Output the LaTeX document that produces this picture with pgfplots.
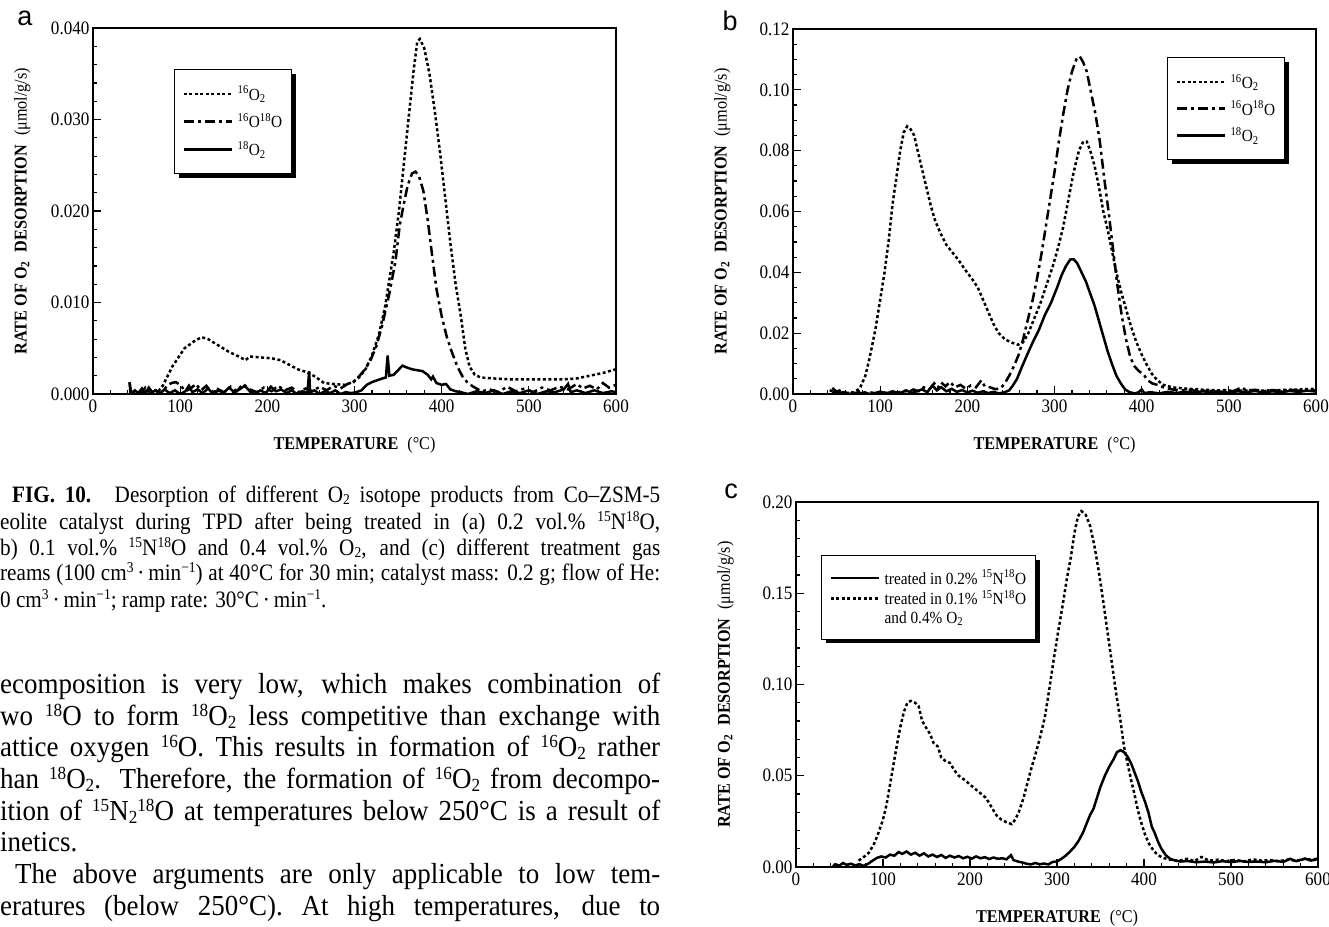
\documentclass[border=0pt]{standalone}
\usepackage{fontspec}
\setmainfont{Liberation Serif}
\newfontfamily\sansf{Liberation Sans}
\newfontfamily\capfont[FakeStretch=0.9]{Liberation Serif}
\newfontfamily\bodyfont[FakeStretch=0.93]{Liberation Serif}
\newfontfamily\plotfont[FakeStretch=0.9]{Liberation Serif}
\usepackage{pgfplots}
\pgfplotsset{compat=1.18}
\usetikzlibrary{shadows}

\newcommand{\fs}[1]{\fontsize{#1}{#1}\selectfont}
\newcommand{\sups}[1]{\textsuperscript{#1}}
\newcommand{\subs}[1]{\textsubscript{#1}}
% body-text and caption super/subscripts
\newcommand{\bsup}[1]{\raisebox{9pt}{\fs{18.5}#1}}
\newcommand{\bsub}[1]{\raisebox{-3pt}{\fs{18.5}#1}}
\newcommand{\csup}[1]{\raisebox{7.5pt}{\fs{15}#1}}
\newcommand{\csub}[1]{\raisebox{-2.5pt}{\fs{15}#1}}

\makeatletter
\tikzset{no preactions/.code={\let\tikz@preactions\pgfutil@empty}}
\makeatother

\pgfplotsset{
  legend image code/.code={\draw[no preactions,#1] (0pt,0pt) -- (48pt,0pt);},
  tpd/.style={
    scale only axis, anchor=south west,
    xmin=0, xmax=600, ymin=0,
    xtick={0,100,200,300,400,500,600},
    minor x tick num=4,
    tick align=inside,
    xtick pos=left, ytick pos=left,
    major tick length=8pt, minor tick length=4pt,
    every tick/.style={black, line width=1.2pt},
    axis line style={line width=1.8pt},
    tick label style={font=\plotfont\fs{19}},
    xticklabel style={yshift=-2pt},
    /pgf/number format/assume math mode=true,
    scaled y ticks=false,
    every axis x label/.style={at={(axis description cs:0.5,-0.139)}, anchor=center},
    every axis y label/.style={at={(axis description cs:-0.135,0.5)}, rotate=90, anchor=center},
    xlabel={\plotfont\fs{18}\textbf{TEMPERATURE}\enspace(°C)},
    ylabel={\plotfont\fs{18}\textbf{RATE OF O\subs{2}\enspace DESORPTION}\enspace(μmol/g/s)},
    legend cell align=left,
    legend style={draw=black, line width=1.2pt, fill=white, font=\plotfont\fs{17}, anchor=north west,
      inner xsep=8pt, inner ysep=15pt, row sep=8pt, column sep=3pt,
      nodes={inner sep=1.5pt},
      drop shadow={shadow xshift=4pt, shadow yshift=-4pt, fill=black, opacity=1}},
  },
  s16/.style={black, line width=2.5pt, dash pattern=on 3pt off 2.5pt},
  s1618/.style={black, line width=2.5pt, dash pattern=on 10pt off 4pt on 3pt off 4pt},
  s18/.style={black, line width=2.5pt},
}

\begin{document}
\begin{tikzpicture}
\path[use as bounding box] (0pt,0pt) rectangle (1329pt,-926pt);

% ---------------- panel a ----------------
\begin{axis}[tpd, at={(93pt,-394pt)}, width=523pt, height=366pt,
  ymax=0.04, ytick={0,0.01,0.02,0.03,0.04}, minor y tick num=4,
  yticklabel style={/pgf/number format/.cd, fixed, fixed zerofill, precision=3},
  legend style={at={(axis description cs:0.155,0.888)}, row sep=9pt}]
\addplot[s16] coordinates {(75,0.0003) (80,0.0009) (91,0.003) (105,0.005) (118,0.0059) (125,0.0062) (132,0.006) (144,0.0053) (156,0.0046) (165,0.0042) (175,0.0037) (180,0.0041) (192,0.0040) (205,0.0039) (215,0.0037) (225,0.0032) (235,0.0027) (245,0.0024) (255,0.0019) (265,0.0012) (275,0.0011) (289,0.0010) (298,0.0013) (305,0.0018) (312,0.0026) (320,0.0042) (328,0.0065) (335,0.0095) (340,0.0125) (345,0.0155) (351,0.0200) (357,0.0255) (363,0.031) (368,0.0355) (372,0.0385) (375,0.0388) (380,0.0378) (386,0.035) (392,0.031) (398,0.0265) (404,0.0215) (410,0.0165) (416,0.012) (422,0.0085) (427,0.005) (432,0.003) (438,0.0021) (445,0.0018) (460,0.0017) (480,0.0016) (500,0.0016) (520,0.0016) (540,0.0016) (555,0.0017) (570,0.002) (585,0.0023) (600,0.0027)};
\addlegendentry{\sups{16}O\subs{2}}
\addplot[s1618] coordinates {(42,0.0012) (44,0.0) (50,0.0005) (55,0.0001) (60,0.0007) (65,0.0002) (72,0.0004) (78,0.0) (85,0.0009) (90,0.0012) (95,0.0013) (100,0.001) (106,0.0003) (112,0.0006) (118,0.0011) (124,0.0004) (130,0.0009) (136,0.0002) (142,0.0006) (150,0.0002) (158,0.0008) (165,0.0003) (172,0.0011) (180,0.0005) (188,0.0002) (196,0.0007) (205,0.0003) (212,0.0009) (220,0.0004) (228,0.0007) (236,0.0002) (244,0.0006) (252,0.0003) (260,0.0008) (268,0.0004) (276,0.0009) (284,0.0006) (292,0.0011) (298,0.0012) (305,0.0019) (312,0.0027) (318,0.0036) (325,0.0052) (332,0.0076) (340,0.011) (347,0.0145) (352,0.0185) (356,0.0205) (361,0.0228) (366,0.0241) (370,0.0243) (374,0.0238) (379,0.0222) (384,0.019) (389,0.0152) (394,0.0115) (400,0.0085) (406,0.0062) (412,0.0045) (418,0.003) (424,0.0019) (430,0.0012) (438,0.0007) (446,0.0003) (455,0.0005) (465,0.0002) (475,0.0008) (485,0.0003) (495,0.0006) (505,0.0002) (515,0.0007) (525,0.0004) (535,0.0008) (545,0.0005) (555,0.0011) (562,0.0006) (570,0.0009) (578,0.0005) (585,0.0012) (592,0.0007) (600,0.001)};
\addlegendentry{\sups{16}O\sups{18}O}
\addplot[s18] coordinates {(42,0.0013) (43,0.0) (48,0.0004) (52,0.0001) (56,0.0006) (60,0.0) (64,0.0007) (68,0.0002) (72,0.0004) (76,0.0) (82,0.0005) (88,0.0001) (94,0.0004) (100,0.0) (106,0.0003) (110,0.0009) (114,0.0002) (120,0.0005) (126,0.0001) (132,0.0006) (138,0.0) (144,0.0004) (150,0.0001) (156,0.0007) (162,0.0002) (168,0.0005) (174,0.0009) (180,0.0003) (186,0.0) (192,0.0004) (198,0.0001) (204,0.0008) (210,0.0003) (216,0.0005) (222,0.0001) (228,0.0004) (234,0.0) (240,0.0003) (246,0.0001) (248,0.0025) (249,0.0002) (254,0.0004) (260,0.0) (266,0.0003) (272,0.0001) (278,0.0004) (284,0.0) (290,0.0002) (296,0.0001) (302,0.0002) (308,0.0004) (314,0.001) (320,0.0013) (326,0.0015) (332,0.0017) (336,0.0018) (338,0.0042) (340,0.002) (345,0.0021) (350,0.0026) (355,0.0031) (360,0.0029) (366,0.0027) (372,0.0026) (378,0.0025) (384,0.0021) (388,0.0016) (390,0.0019) (394,0.0012) (400,0.001) (405,0.0011) (410,0.0005) (416,0.0003) (422,0.0002) (430,0.0) (440,0.0003) (450,0.0001) (460,0.0004) (470,0.0) (480,0.0003) (490,0.0001) (500,0.0004) (510,0.0) (520,0.0003) (530,0.0002) (540,0.0005) (545,0.0011) (548,0.0002) (555,0.0004) (565,0.0001) (575,0.0004) (585,0.0001) (595,0.0003) (600,0.0002)};
\addlegendentry{\sups{18}O\subs{2}}
\end{axis}

% ---------------- panel b ----------------
\begin{axis}[tpd, at={(793pt,-394pt)}, width=523pt, height=365pt,
  ymax=0.12, ytick={0,0.02,0.04,0.06,0.08,0.10,0.12}, minor y tick num=3,
  yticklabel style={/pgf/number format/.cd, fixed, fixed zerofill, precision=2},
  legend style={at={(axis description cs:0.715,0.923)}, row sep=8pt}]
\addplot[s16] coordinates {(42,0.0012) (50,0.0006) (60,0.0003) (70,0.0005) (77,0.002) (83,0.006) (88,0.012) (95,0.022) (100,0.031) (105,0.040) (110,0.051) (114,0.062) (119,0.072) (123,0.080) (127,0.086) (131,0.088) (135,0.087) (139,0.085) (143,0.080) (148,0.074) (153,0.068) (158,0.062) (163,0.057) (169,0.053) (176,0.049) (183,0.0465) (190,0.044) (197,0.041) (205,0.038) (212,0.035) (218,0.031) (224,0.027) (230,0.023) (236,0.020) (243,0.018) (250,0.017) (258,0.0162) (264,0.017) (270,0.020) (277,0.025) (284,0.030) (291,0.036) (298,0.042) (304,0.048) (310,0.055) (316,0.064) (322,0.073) (328,0.080) (333,0.083) (337,0.083) (341,0.080) (346,0.075) (351,0.068) (356,0.060) (361,0.054) (366,0.047) (371,0.040) (376,0.034) (382,0.028) (388,0.022) (394,0.017) (400,0.013) (406,0.0095) (412,0.0065) (418,0.0045) (425,0.003) (435,0.0022) (450,0.0018) (470,0.0014) (490,0.0012) (510,0.0011) (530,0.0011) (550,0.0012) (570,0.0014) (590,0.0016) (600,0.0017)};
\addlegendentry{\sups{16}O\subs{2}}
\addplot[s1618] coordinates {(45,0.002) (50,0.0008) (55,0.0013) (60,0.0004) (66,0.0006) (72,0.0002) (78,0.0011) (84,0.0003) (90,0.0005) (96,0.0001) (102,0.0007) (108,0.0003) (114,0.0009) (120,0.0004) (126,0.0012) (132,0.0006) (138,0.0015) (144,0.0009) (150,0.0022) (156,0.0014) (162,0.0035) (166,0.002) (170,0.0038) (175,0.0025) (180,0.004) (186,0.0022) (192,0.003) (198,0.0018) (204,0.0028) (210,0.0022) (216,0.0045) (220,0.0025) (226,0.0022) (232,0.0016) (238,0.0018) (243,0.0035) (248,0.006) (254,0.0095) (259,0.013) (264,0.018) (269,0.024) (275,0.031) (280,0.038) (285,0.046) (290,0.055) (295,0.064) (300,0.073) (305,0.083) (310,0.092) (315,0.100) (320,0.106) (325,0.110) (329,0.111) (333,0.109) (337,0.106) (342,0.099) (347,0.092) (352,0.083) (357,0.071) (362,0.060) (367,0.048) (372,0.036) (377,0.026) (382,0.018) (387,0.012) (392,0.009) (397,0.0075) (402,0.0065) (407,0.0045) (412,0.0035) (418,0.003) (425,0.0022) (435,0.0015) (445,0.0012) (455,0.0014) (465,0.0009) (475,0.0012) (485,0.0008) (495,0.0013) (505,0.0009) (515,0.0022) (520,0.0011) (530,0.0014) (540,0.0009) (550,0.0013) (560,0.001) (570,0.0014) (580,0.0011) (590,0.0013) (600,0.0012)};
\addlegendentry{\sups{16}O\sups{18}O}
\addplot[s18] coordinates {(45,0.0008) (52,0.0002) (58,0.0006) (64,0.0) (70,0.0004) (76,0.0001) (82,0.0005) (88,0.0) (94,0.0003) (100,0.0008) (106,0.0002) (112,0.0006) (118,0.0001) (124,0.0005) (130,0.0012) (136,0.0003) (142,0.0009) (148,0.0015) (154,0.0006) (160,0.0028) (165,0.0012) (170,0.0022) (176,0.0009) (182,0.0017) (188,0.0007) (194,0.0013) (200,0.0005) (206,0.0011) (212,0.0004) (218,0.0009) (224,0.0003) (230,0.0007) (236,0.0002) (242,0.0005) (248,0.0012) (252,0.0027) (257,0.005) (262,0.0085) (268,0.0125) (275,0.017) (282,0.021) (289,0.026) (296,0.030) (303,0.035) (308,0.039) (313,0.042) (318,0.0442) (322,0.0443) (326,0.043) (331,0.040) (336,0.037) (341,0.033) (346,0.029) (351,0.024) (356,0.019) (361,0.014) (366,0.0098) (371,0.006) (376,0.0035) (381,0.0015) (386,0.0006) (392,0.0002) (396,0.0005) (400,0.0015) (403,0.0003) (410,0.0006) (420,0.0002) (430,0.0007) (440,0.0003) (450,0.0008) (460,0.0004) (470,0.0009) (480,0.0005) (490,0.0008) (500,0.0004) (510,0.0009) (520,0.0006) (530,0.001) (540,0.0005) (550,0.0009) (560,0.0006) (570,0.001) (580,0.0007) (590,0.0011) (600,0.0008)};
\addlegendentry{\sups{18}O\subs{2}}
\end{axis}

% ---------------- panel c ----------------
\begin{axis}[tpd, at={(796pt,-867pt)}, width=522pt, height=365pt,
  ymax=0.20, ytick={0,0.05,0.10,0.15,0.20}, minor y tick num=4,
  yticklabel style={/pgf/number format/.cd, fixed, fixed zerofill, precision=2},
  legend style={at={(axis description cs:0.048,0.855)}, row sep=2pt, inner ysep=13pt}]
\addplot[s18] coordinates {(42,0.0) (45,0.0015) (50,0.0008) (54,0.0022) (58,0.0012) (63,0.0018) (68,0.0009) (73,0.0015) (78,0.0006) (83,0.0018) (88,0.0035) (93,0.005) (98,0.0058) (103,0.0052) (108,0.0068) (113,0.0062) (118,0.0082) (122,0.0072) (127,0.0085) (132,0.0068) (137,0.0078) (142,0.0062) (147,0.0075) (152,0.0058) (157,0.0068) (162,0.0055) (167,0.0066) (172,0.005) (177,0.0062) (182,0.0052) (187,0.006) (192,0.0048) (197,0.0056) (202,0.0046) (207,0.0058) (212,0.0048) (217,0.0054) (222,0.0044) (227,0.0052) (232,0.0045) (237,0.0048) (242,0.0042) (247,0.0065) (250,0.0038) (255,0.003) (260,0.0025) (265,0.0018) (270,0.0014) (275,0.0022) (280,0.0015) (285,0.0019) (290,0.0014) (295,0.0028) (300,0.003) (305,0.0045) (310,0.0062) (315,0.0085) (320,0.011) (325,0.0145) (330,0.019) (335,0.025) (338,0.0285) (342,0.032) (346,0.038) (350,0.044) (355,0.050) (360,0.055) (365,0.059) (369,0.063) (373,0.064) (377,0.063) (381,0.0605) (385,0.057) (389,0.052) (393,0.047) (397,0.041) (401,0.036) (405,0.030) (409,0.022) (412,0.019) (416,0.014) (420,0.010) (425,0.0065) (430,0.0045) (436,0.0035) (442,0.003) (450,0.0033) (460,0.0026) (470,0.003) (480,0.0025) (490,0.0032) (500,0.0027) (510,0.0033) (520,0.0028) (530,0.003) (540,0.0026) (550,0.0034) (560,0.0028) (568,0.0045) (575,0.0032) (585,0.0046) (592,0.0035) (600,0.0048)};
\addlegendentry{treated in 0.2\% \sups{15}N\sups{18}O}
\addplot[s16] coordinates {(72,0.0035) (78,0.0055) (84,0.008) (90,0.013) (95,0.019) (100,0.026) (104,0.034) (108,0.045) (112,0.056) (116,0.067) (120,0.077) (124,0.085) (128,0.090) (132,0.091) (137,0.090) (141,0.088) (145,0.080) (150,0.076) (154,0.073) (158,0.068) (163,0.066) (167,0.060) (172,0.058) (177,0.057) (182,0.053) (187,0.050) (193,0.048) (198,0.046) (203,0.044) (208,0.042) (213,0.040) (218,0.038) (222,0.035) (227,0.031) (231,0.028) (236,0.026) (242,0.0245) (248,0.0235) (252,0.026) (256,0.030) (261,0.037) (266,0.046) (271,0.055) (276,0.063) (281,0.072) (286,0.082) (291,0.097) (296,0.113) (301,0.128) (306,0.142) (311,0.157) (316,0.170) (320,0.183) (324,0.192) (328,0.195) (333,0.193) (338,0.187) (343,0.176) (348,0.162) (353,0.146) (358,0.129) (363,0.112) (368,0.095) (373,0.080) (377,0.066) (381,0.057) (385,0.048) (389,0.040) (393,0.031) (397,0.024) (401,0.018) (406,0.0125) (411,0.009) (416,0.0065) (422,0.005) (430,0.004) (440,0.0034) (450,0.0045) (458,0.0032) (466,0.0055) (475,0.0035) (485,0.004) (495,0.0033) (505,0.0039) (515,0.0031) (525,0.0042) (535,0.0035) (545,0.0038) (555,0.0032) (565,0.004) (575,0.0034) (585,0.0045) (595,0.0038) (600,0.0042)};
\addlegendentry{treated in 0.1\% \sups{15}N\sups{18}O}
\addlegendimage{empty legend}
\addlegendentry{and 0.4\% O\subs{2}}
\end{axis}

% ---------------- panel letters ----------------
\node[anchor=center, inner sep=0] at (25pt,-18pt) {\sansf\fs{27}a};
\node[anchor=center, inner sep=0] at (730pt,-21pt) {\sansf\fs{27}b};
\node[anchor=center, inner sep=0] at (731pt,-491pt) {\sansf\fs{27}c};

% ---------------- caption ----------------
\node[anchor=base west, inner sep=0] at (12pt,-502pt) {\capfont\fs{23.5}\makebox[648pt][s]{\textbf{FIG. 10.}\quad Desorption of different O\csub{2} isotope products from Co–ZSM-5}};
\node[anchor=base west, inner sep=0] at (0pt,-529pt) {\capfont\fs{23.5}\makebox[660pt][s]{eolite catalyst during TPD after being treated in (a) 0.2 vol.\% \csup{15}N\csup{18}O,}};
\node[anchor=base west, inner sep=0] at (0pt,-555pt) {\capfont\fs{23.5}\makebox[660pt][s]{b) 0.1 vol.\% \csup{15}N\csup{18}O and 0.4 vol.\% O\csub{2}, and (c) different treatment gas}};
\node[anchor=base west, inner sep=0] at (0pt,-580pt) {\capfont\fs{23.5}\makebox[660pt][s]{reams (100 cm\csup{3}\,·\,min\csup{−1}) at 40°C for 30 min; catalyst mass: 0.2 g; flow of He:}};
\node[anchor=base west, inner sep=0] at (0pt,-607pt) {\capfont\fs{23.5}0 cm\csup{3}\,·\,min\csup{−1}; ramp rate: 30°C\,·\,min\csup{−1}.};

% ---------------- body text ----------------
\node[anchor=base west, inner sep=0] at (0pt,-693pt) {\bodyfont\fs{29}\makebox[660pt][s]{ecomposition is very low, which makes combination of}};
\node[anchor=base west, inner sep=0] at (0pt,-725pt) {\bodyfont\fs{29}\makebox[660pt][s]{wo \bsup{18}O to form \bsup{18}O\bsub{2} less competitive than exchange with}};
\node[anchor=base west, inner sep=0] at (0pt,-756pt) {\bodyfont\fs{29}\makebox[660pt][s]{attice oxygen \bsup{16}O. This results in formation of \bsup{16}O\bsub{2} rather}};
\node[anchor=base west, inner sep=0] at (0pt,-788pt) {\bodyfont\fs{29}\makebox[660pt][s]{han \bsup{18}O\bsub{2}. Therefore, the formation of \bsup{16}O\bsub{2} from decompo-}};
\node[anchor=base west, inner sep=0] at (0pt,-820pt) {\bodyfont\fs{29}\makebox[660pt][s]{ition of \bsup{15}N\bsub{2}\bsup{18}O at temperatures below 250°C is a result of}};
\node[anchor=base west, inner sep=0] at (0pt,-851pt) {\bodyfont\fs{29}inetics.};
\node[anchor=base west, inner sep=0] at (15pt,-883pt) {\bodyfont\fs{29}\makebox[645pt][s]{The above arguments are only applicable to low tem-}};
\node[anchor=base west, inner sep=0] at (0pt,-915pt) {\bodyfont\fs{29}\makebox[660pt][s]{eratures (below 250°C). At high temperatures, due to}};
\end{tikzpicture}
\end{document}
